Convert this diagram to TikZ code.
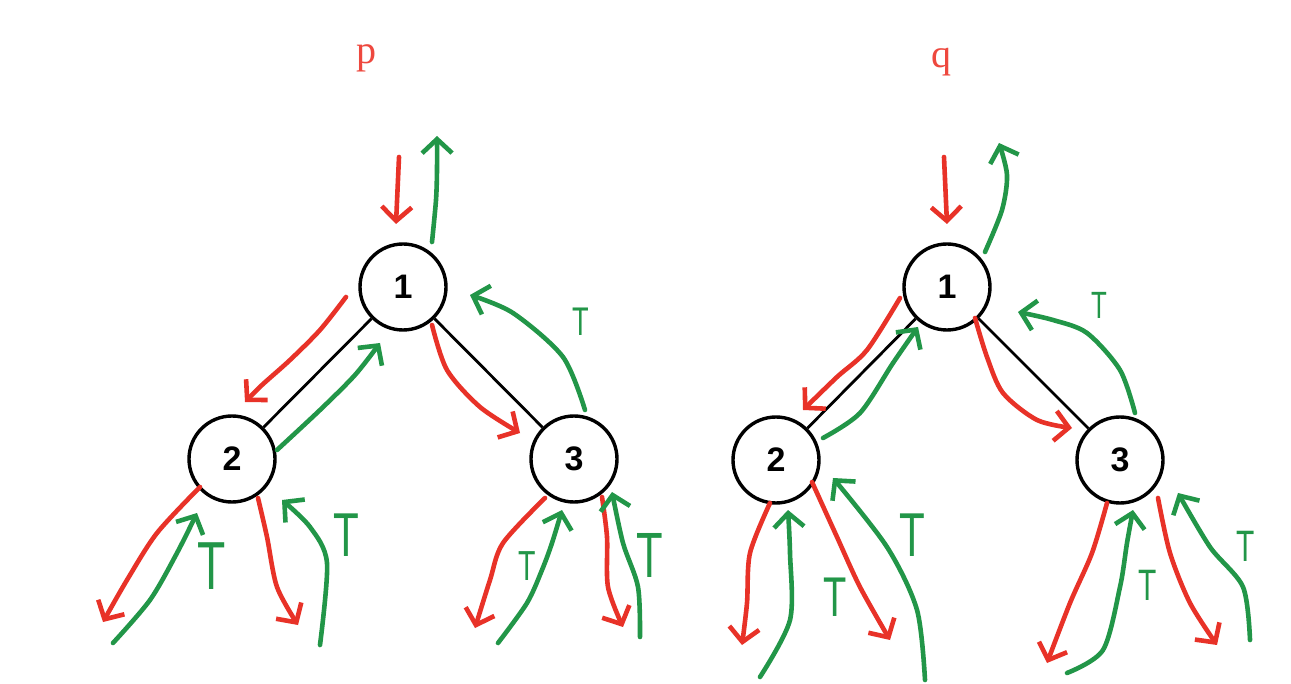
\documentclass[tikz,border=0pt]{standalone}
\usepackage{fontspec}
\usetikzlibrary{arrows.meta}
\newfontfamily\sansf{Liberation Sans}
\newfontfamily\seriff{Liberation Serif}
\definecolor{hred}{RGB}{232,50,40}
\definecolor{hgreen}{RGB}{34,150,72}
\definecolor{lred}{RGB}{238,72,62}
\newcommand{\narrowT}{\scalebox{0.68}[1]{T}}
\begin{document}
\begin{tikzpicture}[x=1pt,y=-1pt,
  treenode/.style={circle,draw=black,line width=3.4pt,minimum size=86pt,inner sep=0pt,
    font=\sansf\bfseries\fontsize{34}{34}\selectfont},
  edge/.style={draw=black,line width=2.8pt},
  hand/.style={line width=4.6pt,line cap=round,line join=round,
    -{Straight Barb[length=14pt,width=30pt,line width=4.6pt]}},
  redstroke/.style={hand,draw=hred},
  greenstroke/.style={hand,draw=hgreen},
  tlabel/.style={text=hgreen,inner sep=0pt,font=\sansf\fontsize{#1}{#1}\selectfont},
  title/.style={text=lred,font=\seriff\fontsize{40}{40}\selectfont}]
\useasboundingbox[fill=white] (0,0) rectangle (1291,684);

% titles
\node[title] (p) at (366,58) {p};
\node[title] (q) at (941,62) {q};

% left tree
\node[treenode] (L1) at (403,287) {1};
\node[treenode] (L2) at (232,459) {2};
\node[treenode] (L3) at (574,459) {3};
\draw[edge] (L1) -- (L2);
\draw[edge] (L1) -- (L3);

% right tree
\node[treenode] (R1) at (947,287) {1};
\node[treenode] (R2) at (776,460) {2};
\node[treenode] (R3) at (1120,460) {3};
\draw[edge] (R1) -- (R2);
\draw[edge] (R1) -- (R3);

% left strokes
\draw[redstroke] (399,157) -- (396,224);
\draw[greenstroke] plot[smooth] coordinates {(432,242) (436,200) (437,170) (437,136)};
\draw[redstroke] plot[smooth] coordinates {(346,297) (320,330) (290,360) (262,385) (245,402)};
\draw[greenstroke] plot[smooth] coordinates {(277,450) (320,410) (355,375) (380,343)};
\draw[redstroke] plot[smooth] coordinates {(432,325) (447,370) (480,407) (520,433)};
\draw[greenstroke] plot[smooth] coordinates {(585,410) (563,357) (513,313) (470,295)};
\draw[redstroke] plot[smooth] coordinates {(200,487) (157,533) (127,580) (103,622)};
\draw[greenstroke] plot[smooth] coordinates {(113,643) (150,600) (177,553) (197,513)};
\draw[redstroke] plot[smooth] coordinates {(258,498) (267,537) (277,587) (298,625)};
\draw[greenstroke] plot[smooth] coordinates {(320,645) (327,563) (310,527) (282,500)};
\draw[redstroke] plot[smooth] coordinates {(545,498) (503,543) (490,580) (475,628)};
\draw[greenstroke] plot[smooth] coordinates {(498,643) (527,603) (542,570) (552,543) (562,510)};
\draw[redstroke] plot[smooth] coordinates {(602,497) (607,537) (608,587) (623,627)};
\draw[greenstroke] plot[smooth] coordinates {(640,637) (638,587) (623,543) (612,492)};

% right strokes
\draw[redstroke] (944,157) -- (947,224);
\draw[greenstroke] plot[smooth] coordinates {(985,252) (1002,210) (1007,175) (999,143)};
\draw[redstroke] plot[smooth] coordinates {(900,298) (867,350) (837,377) (803,410)};
\draw[greenstroke] plot[smooth] coordinates {(823,438) (860,413) (893,363) (918,327)};
\draw[redstroke] plot[smooth] coordinates {(975,318) (987,357) (1003,393) (1037,420) (1072,428)};
\draw[greenstroke] plot[smooth] coordinates {(1135,413) (1120,370) (1087,333) (1053,320) (1018,312)};
\draw[redstroke] plot[smooth] coordinates {(770,503) (750,553) (747,603) (742,645)};
\draw[greenstroke] plot[smooth] coordinates {(760,677) (790,620) (790,553) (788,510)};
\draw[redstroke] plot[smooth] coordinates {(812,482) (837,537) (860,587) (890,640)};
\draw[greenstroke] plot[smooth] coordinates {(925,680) (917,610) (887,547) (833,478)};
\draw[redstroke] plot[smooth] coordinates {(1107,503) (1092,553) (1070,603) (1047,663)};
\draw[greenstroke] plot[smooth] coordinates {(1067,673) (1103,650) (1120,587) (1127,543) (1133,510)};
\draw[redstroke] plot[smooth] coordinates {(1158,498) (1170,553) (1190,603) (1217,645)};
\draw[greenstroke] plot[smooth] coordinates {(1250,640) (1243,587) (1210,547) (1178,493)};

% T labels
\node[tlabel=40] (t1) at (581,322) {\narrowT};
\node[tlabel=68] (t2) at (212,566) {\narrowT};
\node[tlabel=62] (t3) at (346,535) {\narrowT};
\node[tlabel=42] (t4) at (527,566) {\narrowT};
\node[tlabel=64] (t5) at (650,555) {\narrowT};
\node[tlabel=38] (t6) at (1099,305) {\narrowT};
\node[tlabel=56] (t7) at (835,597) {\narrowT};
\node[tlabel=62] (t8) at (912,535) {\narrowT};
\node[tlabel=44] (t9) at (1148,585) {\narrowT};
\node[tlabel=44] (t10) at (1246,546) {\narrowT};
\end{tikzpicture}
\end{document}
